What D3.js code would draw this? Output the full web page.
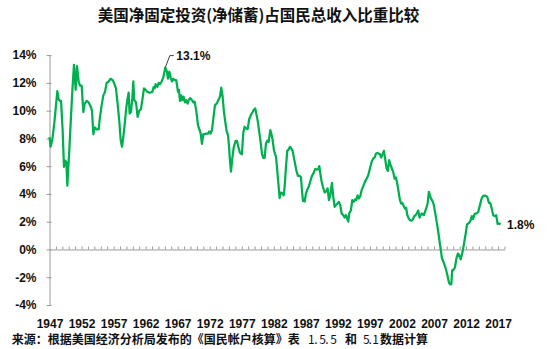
<!DOCTYPE html>
<html>
<head>
<meta charset="utf-8">
<script src="https://cdn.jsdelivr.net/npm/d3@7/dist/d3.min.js"></script>
<style>
  html, body { margin: 0; padding: 0; background: #fff; }
  svg { display: block; }
  .num { font-family: "Liberation Sans", Arial, sans-serif; font-weight: bold; font-size: 12px; fill: #111; }
  .cjk { font-family: "Noto Sans CJK SC", sans-serif; fill: #111; }
</style>
</head>
<body>
<svg id="chart" width="550" height="349"></svg>
<script>
// Net fixed investment (net saving) as a share of US gross national income, quarterly (%)
const quarters = [
  1947.00,1947.18,1947.44,1947.75,1948.00,1948.22,1948.43,1948.64,1948.80,1949.05,
  1949.26,1949.47,1949.63,1949.78,1950.09,1950.35,1950.60,1950.82,1951.08,1951.29,
  1951.55,1951.76,1952.02,1952.28,1952.49,1952.80,1953.10,1953.42,1953.63,1953.84,
  1954.05,1954.36,1954.67,1954.88,1955.14,1955.40,1955.66,1955.92,1956.23,1956.54,
  1956.86,1957.11,1957.37,1957.63,1957.90,1958.10,1958.31,1958.52,1958.73,1958.93,
  1959.14,1959.35,1959.50,1959.71,1959.92,1960.08,1960.23,1960.50,1960.75,1961.01,
  1961.27,1961.53,1961.74,1962.00,1962.26,1962.52,1962.78,1963.04,1963.25,1963.40,
  1963.56,1963.82,1964.03,1964.24,1964.50,1964.76,1965.07,1965.33,1965.49,1965.70,
  1965.90,1966.11,1966.32,1966.53,1966.78,1967.05,1967.20,1967.36,1967.56,1967.72,
  1967.93,1968.14,1968.34,1968.55,1968.76,1968.97,1969.23,1969.44,1969.65,1969.90,
  1970.17,1970.43,1970.59,1970.79,1971.00,1971.21,1971.46,1971.73,1971.93,1972.14,
  1972.35,1972.56,1972.82,1973.08,1973.34,1973.60,1973.80,1974.02,1974.22,1974.43,
  1974.64,1974.85,1975.00,1975.16,1975.32,1975.52,1975.75,1976.05,1976.25,1976.46,
  1976.72,1977.03,1977.24,1977.45,1977.66,1977.92,1978.17,1978.44,1978.70,1978.90,
  1979.11,1979.26,1979.48,1979.73,1979.94,1980.15,1980.35,1980.57,1980.78,1980.98,
  1981.20,1981.45,1981.61,1981.82,1982.02,1982.18,1982.34,1982.54,1982.76,1982.91,
  1983.12,1983.32,1983.54,1983.69,1983.90,1984.10,1984.32,1984.52,1984.72,1984.94,
  1985.14,1985.35,1985.56,1985.77,1986.03,1986.24,1986.39,1986.55,1986.81,1987.02,
  1987.22,1987.48,1987.69,1987.95,1988.21,1988.47,1988.73,1988.89,1989.10,1989.25,
  1989.46,1989.67,1989.93,1990.18,1990.40,1990.60,1990.81,1991.07,1991.28,1991.49,
  1991.70,1991.90,1992.16,1992.37,1992.58,1992.84,1993.05,1993.26,1993.46,1993.62,
  1993.77,1994.04,1994.24,1994.46,1994.66,1994.86,1995.08,1995.28,1995.49,1995.70,
  1995.96,1996.22,1996.48,1996.74,1997.00,1997.26,1997.52,1997.73,1997.94,1998.14,
  1998.36,1998.56,1998.76,1998.98,1999.18,1999.39,1999.60,1999.80,2000.00,2000.23,
  2000.43,2000.63,2000.85,2001.06,2001.26,2001.48,2001.68,2001.88,2002.04,2002.26,
  2002.46,2002.66,2002.82,2003.08,2003.29,2003.50,2003.70,2003.90,2004.12,2004.33,
  2004.53,2004.75,2005.07,2005.42,2005.74,2006.00,2006.20,2006.50,2006.75,2006.95,
  2007.20,2007.45,2007.70,2007.95,2008.25,2008.55,2008.85,2009.10,2009.35,2009.55,
  2009.70,2009.84,2010.00,2010.26,2010.52,2010.73,2010.93,2011.17,2011.46,2011.71,
  2011.98,2012.15,2012.45,2012.71,2012.90,2013.10,2013.35,2013.65,2013.90,2014.16,
  2014.43,2014.68,2014.94,2015.30,2015.57,2015.77,2015.98,2016.24,2016.50,2016.70,
  2016.92,2017.17,2017.38
];
const shares = [
  8.1,7.4,7.9,9.1,10.3,11.4,10.8,10.7,10.7,8.6,
  5.95,6.4,6.3,4.6,7.15,9.55,11.7,13.3,11.5,13.2,
  12.1,11.8,11.8,9.9,10.5,10.7,10.6,10.3,10.0,8.3,
  8.8,8.65,8.65,9.55,10.4,11.1,11.35,12.0,12.1,12.3,
  12.2,11.95,11.6,10.5,9.2,7.9,7.4,8.1,9.0,10.0,
  10.75,11.3,9.8,9.9,10.9,12.1,10.75,10.6,9.55,10.0,
  10.1,10.9,11.6,11.5,11.35,11.3,11.3,11.35,11.7,11.6,
  11.9,11.7,12.0,11.9,12.1,12.4,13.1,12.8,12.3,12.8,
  12.4,12.1,12.3,12.2,12.2,11.35,11.5,10.7,11.1,10.75,
  11.0,10.6,10.75,10.5,10.8,10.9,10.75,10.6,10.65,10.0,
  8.95,8.6,8.35,7.6,8.3,8.3,8.35,8.35,8.5,8.35,
  8.6,9.4,10.4,10.5,10.75,11.0,11.65,11.0,9.9,9.2,
  8.5,8.25,7.5,6.4,5.6,6.55,7.35,7.83,7.83,7.4,
  6.96,6.86,8.4,8.84,8.72,8.67,9.4,9.7,9.9,10.08,
  10.16,9.8,9.3,8.47,7.75,6.9,6.6,6.6,7.64,7.83,
  7.75,8.6,8.35,7.88,7.16,6.9,6.7,5.7,4.5,3.7,
  4.1,4.05,3.9,4.5,5.95,7.1,7.2,7.4,7.28,7.1,
  6.6,6.1,5.6,5.3,5.3,5.2,4.3,3.5,3.45,4.03,
  4.3,4.56,4.9,5.3,5.5,5.8,5.76,5.76,6.0,5.5,
  4.9,4.5,4.1,4.2,4.4,3.55,3.9,4.8,3.8,3.07,
  3.2,3.3,3.43,3.2,2.6,2.47,2.3,2.47,2.2,2.0,
  2.6,2.83,3.55,3.43,3.6,3.55,3.9,3.67,3.84,4.27,
  4.56,4.87,5.1,5.35,5.83,6.3,6.55,6.62,6.9,6.96,
  6.9,6.87,6.62,6.87,7.1,6.48,5.83,5.66,6.43,6.07,
  5.83,5.59,5.1,5.18,4.75,4.15,3.55,3.3,3.36,3.15,
  2.95,3.0,2.5,2.2,2.1,2.07,2.16,2.38,2.47,2.6,
  2.8,2.3,2.59,2.47,2.9,3.3,4.15,3.7,3.5,3.25,
  2.6,1.9,1.15,0.3,-0.65,-0.98,-1.4,-1.87,-2.42,-2.52,
  -2.5,-1.49,-1.5,-1.3,-0.6,-0.29,-0.4,-0.72,-0.17,0.5,
  1.25,1.8,1.9,2.1,2.4,2.2,2.57,2.6,2.7,3.19,
  3.67,3.86,3.88,3.8,3.36,3.36,3.0,2.47,2.4,2.47,
  1.85,1.87,1.8
];
const yTicks = [-4, -2, 0, 2, 4, 6, 8, 10, 12, 14];
const yearLabels = [1947, 1952, 1957, 1962, 1967, 1972, 1977, 1982, 1987, 1992, 1997, 2002, 2007, 2012, 2017];
const yearTicks = d3.range(1948, 2019);
const peakQuarter = 1965.07, peakShare = 13.1;

const svg = d3.select("#chart");
const axisGray = "#9a9a9a";

const x = d3.scaleLinear().domain([1947, 2018]).range([49.5, 504.5]);
const y = d3.scaleLinear().domain([-4, 14]).range([305, 55.1]);

// Title
svg.append("text")
  .attr("class", "cjk")
  .attr("x", 258.5).attr("y", 20.5)
  .attr("text-anchor", "middle")
  .style("font-size", "15.5px").style("font-weight", "bold")
  .text("美国净固定投资(净储蓄)占国民总收入比重比较");

// Value axis
const yAxis = svg.append("g")
  .attr("transform", `translate(${x.range()[0]},0)`)
  .call(d3.axisLeft(y).tickValues(yTicks).tickSizeInner(3).tickSizeOuter(0)
    .tickPadding(10).tickFormat(d => d + "%"));
yAxis.select(".domain").attr("stroke", axisGray);
yAxis.selectAll(".tick line").attr("stroke", axisGray).attr("x1", 2);
yAxis.selectAll(".tick text").attr("class", "num").attr("font-size", null).attr("font-family", null);

// Zero line with yearly ticks
const zeroAxis = svg.append("g")
  .attr("transform", `translate(0,${y(0)})`)
  .call(d3.axisTop(x).tickValues(yearTicks).tickSize(3).tickSizeOuter(0).tickFormat(""));
zeroAxis.select(".domain").attr("stroke", axisGray);
zeroAxis.selectAll(".tick line").attr("stroke", axisGray);

// Year labels along the bottom
const xLabels = svg.append("g")
  .attr("transform", "translate(0,316)")
  .call(d3.axisBottom(x).tickValues(yearLabels).tickSize(0).tickPadding(3).tickFormat(d3.format("d")));
xLabels.select(".domain").remove();
xLabels.selectAll(".tick text").attr("class", "num").attr("font-size", null).attr("font-family", null);

// Series line
const points = quarters.map((q, i) => [q, shares[i]]);
svg.append("path")
  .datum(points)
  .attr("fill", "none")
  .attr("stroke", "#00b050")
  .attr("stroke-width", 2.25)
  .attr("stroke-linejoin", "round")
  .attr("d", d3.line().x(d => x(d[0])).y(d => y(d[1])));

// Peak callout
const px = x(peakQuarter), py = y(peakShare);
svg.append("polyline")
  .attr("points", `${px},${py} ${px + 4.5},${py - 12} ${px + 8.5},${py - 12}`)
  .attr("fill", "none").attr("stroke", "#404040").attr("stroke-width", 1);
svg.append("text")
  .attr("class", "num")
  .attr("x", px + 11).attr("y", py - 12).attr("dy", "0.35em")
  .text(peakShare.toFixed(1) + "%");

// Latest value label
const last = points[points.length - 1];
svg.append("text")
  .attr("class", "num")
  .attr("x", x(last[0]) + 6.5).attr("y", y(last[1])).attr("dy", "0.35em")
  .text(last[1].toFixed(1) + "%");

// Source note
const src = svg.append("text")
  .attr("class", "cjk")
  .attr("y", 344)
  .style("font-size", "12px").style("font-weight", "bold");
src.append("tspan").attr("x", 11.7).text("来源：根据美国经济分析局发布的《国民帐户核算》表");
src.append("tspan").attr("x", 308).style("font-weight", "normal")
  .attr("textLength", 29).attr("lengthAdjust", "spacing").text("1. 5. 5");
src.append("tspan").attr("x", 345).text("和");
src.append("tspan").attr("x", 363).style("font-weight", "normal")
  .attr("textLength", 16).attr("lengthAdjust", "spacing").text("5. 1");
src.append("tspan").attr("x", 380).text("数据计算");
</script>
</body>
</html>
